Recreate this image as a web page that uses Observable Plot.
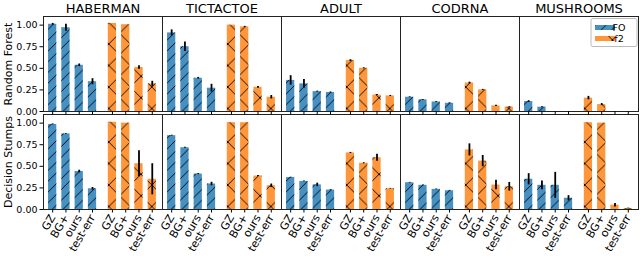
<!DOCTYPE html>
<html><head><meta charset="utf-8">
<script src="https://cdn.jsdelivr.net/npm/d3@7"></script>
<script src="https://cdn.jsdelivr.net/npm/@observablehq/plot@0.6"></script>
<style>body{margin:0;background:#fff;} #chart{width:640px;height:256px;}</style>
</head><body><div id="chart"></div>
<script>
const datasets = ["HABERMAN", "TICTACTOE", "ADULT", "CODRNA", "MUSHROOMS"];
const models = ["Random Forest", "Decision Stumps"];
const methods = ["GZ", "BG+", "ours", "test-err"];
const series = ["FO", "f2"];
const colors = ["#1f77b4", "#ff7f0e"];

// Random Forest, FO
const rfFO = [[1.01, 0.97, 0.535, 0.345], [0.91, 0.75, 0.385, 0.27], [0.36, 0.32, 0.23, 0.22], [0.165, 0.135, 0.11, 0.095], [0.115, 0.05, 0, 0]];
const rfFOerr = [[0.01, 0.04, 0.015, 0.035], [0.035, 0.055, 0.01, 0.045], [0.055, 0.05, 0.006, 0.006], [0.005, 0.005, 0.005, 0.005], [0.01, 0.006, 0, 0]];
// Random Forest, f2
const rfF2 = [[1.02, 1.005, 0.51, 0.32], [1.0, 0.98, 0.28, 0.165], [0.59, 0.5, 0.19, 0.18], [0.33, 0.25, 0.065, 0.05], [0.155, 0.08, 0, 0]];
const rfF2err = [[0, 0, 0.02, 0.03], [0, 0.006, 0.01, 0.02], [0.01, 0.006, 0.006, 0.006], [0.01, 0.006, 0.006, 0.006], [0.02, 0.012, 0, 0]];
// Decision Stumps, FO
const dsFO = [[0.985, 0.875, 0.44, 0.24], [0.855, 0.715, 0.41, 0.295], [0.37, 0.325, 0.285, 0.225], [0.31, 0.28, 0.233, 0.217], [0.35, 0.28, 0.28, 0.13]];
const dsFOerr = [[0.005, 0.005, 0.015, 0.015], [0.005, 0.005, 0.006, 0.02], [0.004, 0.004, 0.02, 0.004], [0.004, 0.004, 0.004, 0.004], [0.065, 0.05, 0.15, 0.03]];
// Decision Stumps, f2
const dsF2 = [[1.01, 1.0, 0.53, 0.35], [1.005, 1.005, 0.387, 0.275], [0.655, 0.535, 0.6, 0.24], [0.69, 0.56, 0.283, 0.263], [1.005, 1.0, 0.05, 0.012]];
const dsF2err = [[0, 0, 0.15, 0.18], [0, 0, 0.006, 0.02], [0.006, 0.006, 0.04, 0.004], [0.07, 0.065, 0.055, 0.05], [0, 0, 0.02, 0.004]];

const yTicks = [0, 0.25, 0.5, 0.75, 1.0];

const valueTables = [[rfFO, rfF2], [dsFO, dsF2]];
const errTables = [[rfFOerr, rfF2err], [dsFOerr, dsF2err]];
const groupGap = 4.5;
const barWidth = 0.62;

const rows = [];
models.forEach((m, mi) => datasets.forEach((d, di) => series.forEach((s, si) => methods.forEach((me, k) => {
  rows.push({
    model: m, dataset: d, series: s, method: me,
    pos: si * groupGap + k,
    value: valueTables[mi][si][di][k],
    err: errTables[mi][si][di][k]
  });
}))));
const slots = series.flatMap((s, si) => methods.map((me, k) => si * groupGap + k));
const tickLabel = v => methods[v < groupGap ? v : v - groupGap];

const common = {fx: "dataset", fy: "model"};

const plot = Plot.plot({
  width: 640, height: 256,
  marginTop: 15, marginBottom: 46.7, marginLeft: 41.7, marginRight: 1,
  style: {fontFamily: "DejaVu Sans", fontSize: "10px", background: "white", color: "black"},
  fx: {domain: datasets, paddingInner: 0, paddingOuter: 0, axis: null},
  fy: {domain: models, paddingInner: 0.035, paddingOuter: 0, axis: null},
  x: {domain: [-0.69, 8.27], axis: null},
  y: {domain: [0, 1.1], axis: null},
  marks: [
    Plot.rect(rows, {...common, x1: d => d.pos - barWidth / 2, x2: d => d.pos + barWidth / 2, y1: 0, y2: "value",
      fill: d => colors[series.indexOf(d.series)], fillOpacity: 0.82}),
    Plot.rect(rows.filter(d => d.series === "FO"), {...common, x1: d => d.pos - barWidth / 2, x2: d => d.pos + barWidth / 2, y1: 0, y2: "value", fill: "url(#hFO)"}),
    Plot.rect(rows.filter(d => d.series === "f2"), {...common, x1: d => d.pos - barWidth / 2, x2: d => d.pos + barWidth / 2, y1: 0, y2: "value", fill: "url(#hF2)"}),
    Plot.ruleX(rows.filter(d => d.err > 0), {...common, x: "pos", y1: d => d.value - d.err, y2: d => d.value + d.err, stroke: "black", strokeWidth: 1.8}),
    Plot.frame({stroke: "#222", strokeWidth: 1}),
    Plot.axisY({ticks: yTicks, tickFormat: d3.format(".2f"), fontSize: 9.5, tickSize: 3.5, tickPadding: 2.5, label: null}),
    Plot.axisX({ticks: slots, tickFormat: () => "", tickSize: 3.5, facetAnchor: null, label: null}),
    Plot.axisX({ticks: slots, tickFormat: tickLabel, tickRotate: -60, tickSize: 0, tickPadding: 6, fontSize: 11, label: null}),
    Plot.axisFx({anchor: "top", label: null, tickSize: 0, tickPadding: 4, fontSize: 13}),
    Plot.text(models, {fy: d => d, fx: () => datasets[0], y: () => 0.55, text: d => d, frameAnchor: "left", textAnchor: "middle", rotate: -90, dx: -35, fontSize: 11})
  ]
});

plot.insertAdjacentHTML("afterbegin", `<defs>
<pattern id="hFO" patternUnits="userSpaceOnUse" width="10.75" height="10.75">
<path d="M-1,1 L1,-1 M0,10.75 L10.75,0 M9.75,11.75 L11.75,9.75" stroke="#000" stroke-width="0.9" fill="none"/></pattern>
<pattern id="hF2" patternUnits="userSpaceOnUse" width="21.5" height="21.5">
<path d="M0,0 L21.5,21.5 M21.5,0 L0,21.5" stroke="#000" stroke-width="0.9" fill="none"/></pattern>
</defs>`);

// legend (inside the top-right panel)
const ns = "http://www.w3.org/2000/svg";
const lg = document.createElementNS(ns, "g");
lg.setAttribute("transform", "translate(591,18.5)");
let html = `<rect x="0" y="0" width="46" height="28" rx="2" fill="white" fill-opacity="0.85" stroke="#bbb"/>`;
series.forEach((s, i) => {
  const yy = 6.5 + i * 11;
  html += `<rect x="4" y="${yy}" width="20" height="5" fill="${colors[i]}" fill-opacity="0.82"/>`;
  html += `<rect x="4" y="${yy}" width="20" height="5" fill="url(#${i === 0 ? "hFO" : "hF2"})"/>`;
  html += `<text x="28" y="${yy + 2.5}" dy="0.35em" font-size="9.5">${s}</text>`;
});
lg.innerHTML = html;
plot.appendChild(lg);

document.getElementById("chart").appendChild(plot);
</script>
</body></html>
